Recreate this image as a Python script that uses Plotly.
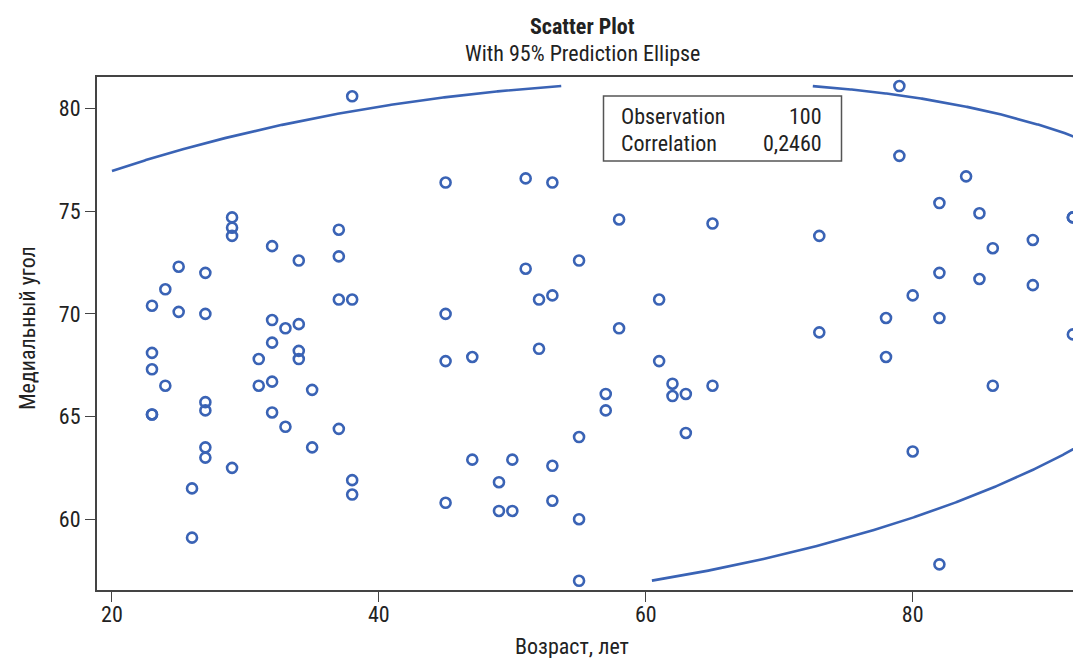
import numpy as np
import plotly.graph_objects as go

# ---- data (98 visible markers + 2 overlapped ones) ----
age = [38, 29, 29, 29, 32, 37, 34, 37, 25, 24, 27, 23, 25, 27, 37, 38, 32, 33, 34, 32,
       34, 34, 23, 31, 23, 24, 31, 32, 35, 27, 27, 23, 32, 33, 37, 27, 27, 35, 29, 26,
       38, 38, 26,
       45, 51, 53, 58, 55, 51, 52, 53, 61, 45, 58, 52, 45, 47, 61, 62, 62, 57, 57, 55,
       47, 50, 53, 49, 45, 49, 50, 53, 55, 55,
       79, 79, 84, 82, 85, 92, 65, 73, 86, 89, 82, 85, 89, 80, 78, 82, 73, 92, 63, 65,
       63, 78, 86, 80, 82,
       92, 23]
angle = [80.6, 74.7, 74.2, 73.8, 73.3, 74.1, 72.6, 72.8, 72.3, 71.2, 72.0, 70.4, 70.1, 70.0, 70.7, 70.7, 69.7, 69.3, 69.5, 68.6,
         68.2, 67.8, 68.1, 67.8, 67.3, 66.5, 66.5, 66.7, 66.3, 65.7, 65.3, 65.1, 65.2, 64.5, 64.4, 63.5, 63.0, 63.5, 62.5, 61.5,
         61.9, 61.2, 59.1,
         76.4, 76.6, 76.4, 74.6, 72.6, 72.2, 70.7, 70.9, 70.7, 70.0, 69.3, 68.3, 67.7, 67.9, 67.7, 66.6, 66.0, 66.1, 65.3, 64.0,
         62.9, 62.9, 62.6, 61.8, 60.8, 60.4, 60.4, 60.9, 60.0, 57.0,
         81.1, 77.7, 76.7, 75.4, 74.9, 74.7, 74.4, 73.8, 73.2, 73.6, 72.0, 71.7, 71.4, 70.9, 69.8, 69.8, 69.1, 69.0, 66.1, 66.5,
         64.2, 67.9, 66.5, 63.3, 57.8,
         74.7, 65.1]

x_ticks = [20, 40, 60, 80]
y_ticks = [60, 65, 70, 75, 80]
stats_labels = ["Observation", "Correlation"]
stats_values = ["100", "0,2460"]

title = "Scatter Plot"
subtitle = "With 95% Prediction Ellipse"
x_title = "Возраст, лет"
y_title = "Медиальный угол"

# ---- 95% prediction ellipse computed from the data ----
xa = np.array(age, float)
ya = np.array(angle, float)
n = len(xa)
d2 = n - 2
F = (d2 / 2.0) * ((0.05) ** (-2.0 / d2) - 1.0)          # F(0.95; 2, n-2)
c = np.sqrt(2.0 * (n + 1) * (n - 1) / (n * (n - 2)) * F)
cov = np.cov(xa, ya)
Lc = np.linalg.cholesky(cov)
t = np.linspace(0, 2 * np.pi, 4001)
ell = Lc @ np.vstack([np.cos(t), np.sin(t)]) * c
ex = xa.mean() + ell[0]
ey = ya.mean() + ell[1]
# the ellipse is clipped to the data area (first x tick .. , data y extent)
inside = (ex >= x_ticks[0]) & (ey >= ya.min()) & (ey <= ya.max())
ex = np.where(inside, ex, np.nan)
ey = np.where(inside, ey, np.nan)

BLUE = "#3a63b5"
FONT = "Liberation Sans Narrow, Arial Narrow, Roboto Condensed, DejaVu Sans Condensed, sans-serif"
TXT = "#222222"
AX = "#444444"

fig = go.Figure()
fig.add_trace(go.Scatter(x=ex, y=ey, mode="lines", connectgaps=False,
                         line=dict(color=BLUE, width=2.6), hoverinfo="skip", showlegend=False))
fig.add_trace(go.Scatter(x=age, y=angle, mode="markers", cliponaxis=False,
                         marker=dict(symbol="circle-open", size=10, color=BLUE,
                                     line=dict(width=2.6, color=BLUE)),
                         showlegend=False))

W, H = 1073, 658
L_, R_, T_, B_ = 97, 0, 77, 68
pw = W - L_ - R_
ph = H - T_ - B_


def px(xp):
    return (xp - L_) / pw


def py(yp):
    return (H - B_ - yp) / ph


fig.update_layout(
    width=W, height=H,
    margin=dict(l=L_, r=R_, t=T_, b=B_, pad=0),
    plot_bgcolor="white", paper_bgcolor="white",
    font=dict(family=FONT, size=22, color=TXT),
    xaxis=dict(range=[18.88, 92.01], tickvals=x_ticks, showgrid=False, zeroline=False,
               showline=True, mirror=True, linecolor=AX, linewidth=2,
               ticks="outside", ticklen=10, tickwidth=1, tickcolor=AX,
               ticklabelstandoff=-6,
               tickfont=dict(family=FONT, size=22, color=TXT)),
    yaxis=dict(range=[56.55, 81.54], tickvals=y_ticks, showgrid=False, zeroline=False,
               showline=True, mirror=False, linecolor=AX, linewidth=2,
               ticks="outside", ticklen=10, tickwidth=1, tickcolor=AX,
               ticklabelstandoff=0,
               tickfont=dict(family=FONT, size=22, color=TXT)),
)

ann = []
ann.append(dict(text="<b>" + title + "</b>", x=px(582), y=py(26), xref="paper", yref="paper",
                xanchor="center", yanchor="middle", showarrow=False, font=dict(size=22)))
ann.append(dict(text=subtitle, x=px(582), y=py(53), xref="paper", yref="paper",
                xanchor="center", yanchor="middle", showarrow=False, font=dict(size=22)))
ann.append(dict(text=x_title, x=px(572), y=py(646), xref="paper", yref="paper",
                xanchor="center", yanchor="middle", showarrow=False, font=dict(size=22)))
ann.append(dict(text=y_title, x=px(27), y=py(328), xref="paper", yref="paper", textangle=-90,
                xanchor="center", yanchor="middle", showarrow=False, font=dict(size=22)))
rows_y = [116.5, 143]
for lab, val, yy in zip(stats_labels, stats_values, rows_y):
    ann.append(dict(text=lab, x=px(619), y=py(yy), xref="paper", yref="paper",
                    xanchor="left", yanchor="middle", showarrow=False, font=dict(size=22)))
    ann.append(dict(text=val, x=px(824), y=py(yy), xref="paper", yref="paper",
                    xanchor="right", yanchor="middle", showarrow=False, font=dict(size=22)))
fig.update_layout(annotations=ann)

fig.add_shape(type="rect", xref="paper", yref="paper",
              x0=px(603.5), x1=px(841.5), y0=py(161), y1=py(96),
              line=dict(color="#555555", width=1.5), fillcolor="white", layer="above")

fig.write_html("out.html", config={"displayModeBar": False},
               post_script="document.body.style.margin='0';document.body.style.padding='0';")
